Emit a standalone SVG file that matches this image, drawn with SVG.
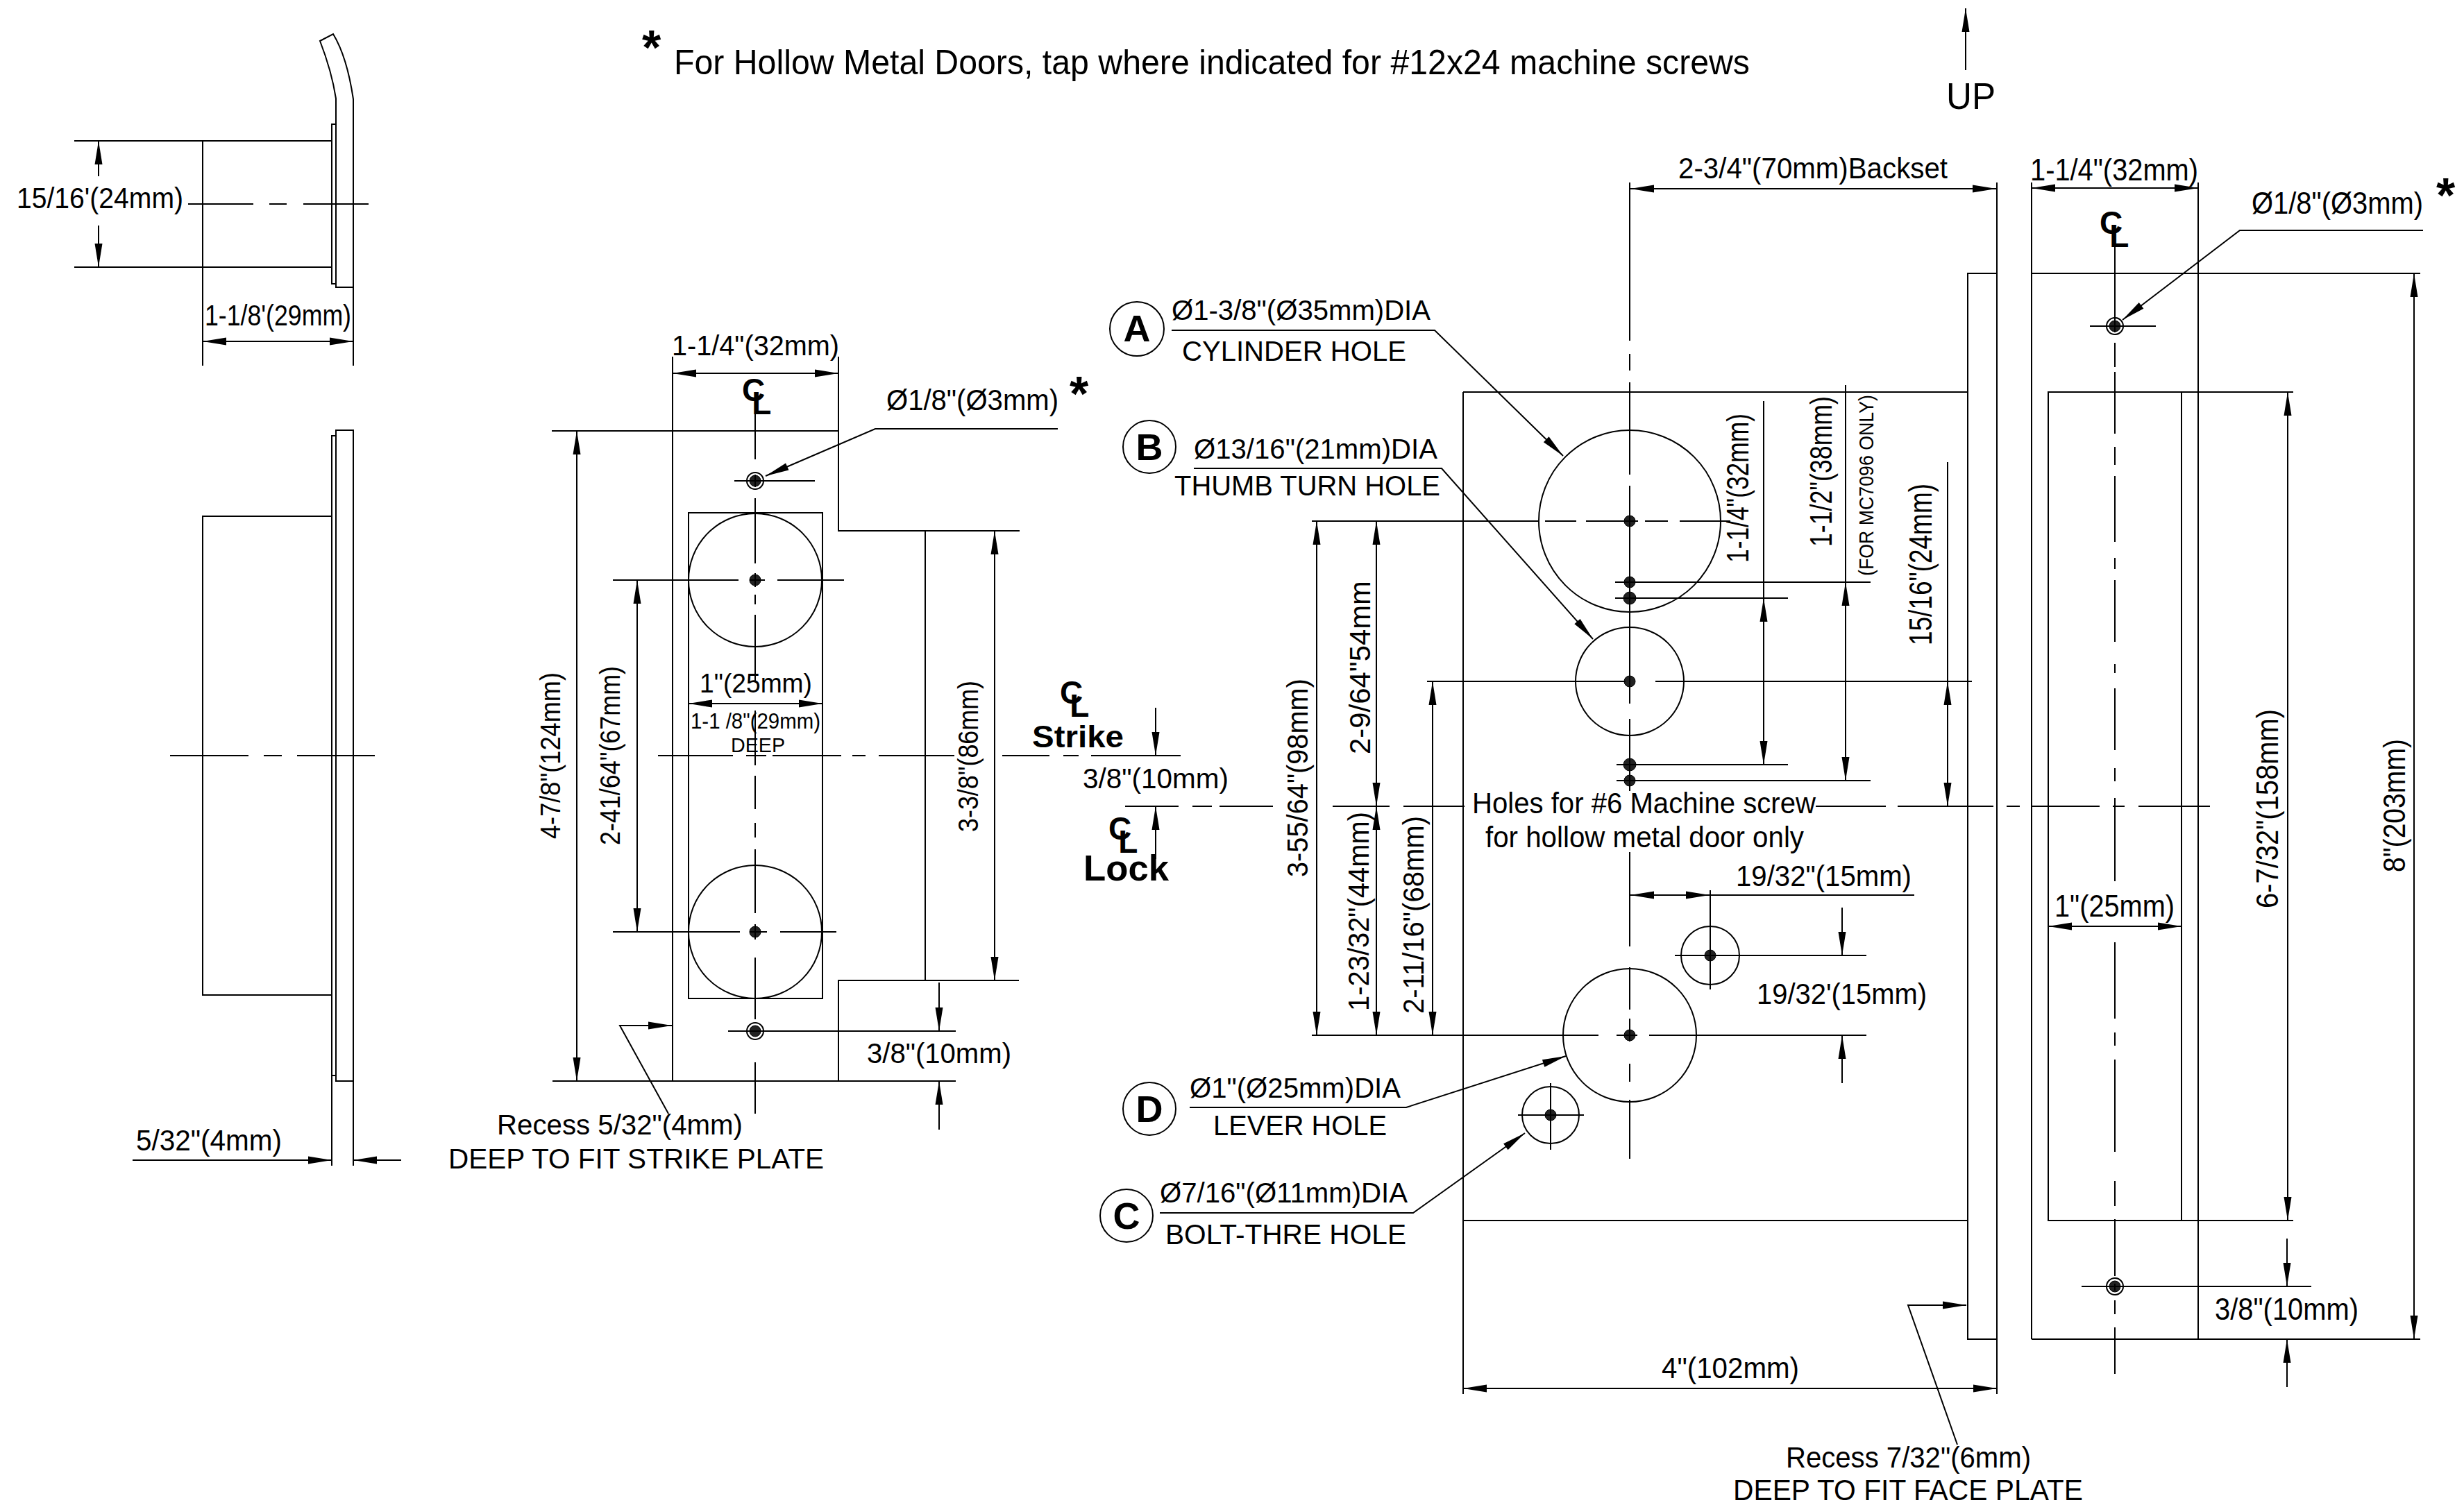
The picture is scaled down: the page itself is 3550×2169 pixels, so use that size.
<svg xmlns="http://www.w3.org/2000/svg" width="3550" height="2169" viewBox="0 0 3550 2169">
<defs>
<marker id="ah" markerUnits="userSpaceOnUse" markerWidth="36" markerHeight="14" refX="35" refY="7" orient="auto-start-reverse"><path d="M35 7L1 1.500V12.500Z" fill="#000"/></marker>
</defs>
<style>
text{font-family:"Liberation Sans",Arial,sans-serif;fill:#000;font-size:42px}
.b{font-weight:bold}
.cl{font-weight:bold;font-size:46px;text-anchor:start}
.cl tspan+tspan{font-size:38px}
.g,.d line,.d path{fill:none;stroke:#000;stroke-width:2}
.d line,.d path{marker-end:url(#ah)}
.d .two{marker-start:url(#ah)}
circle{fill:none;stroke:#000;stroke-width:2}
circle.dot{fill:#222;stroke:#000;stroke-width:1}
rect{fill:#fff;stroke:#000;stroke-width:2}
</style>
<rect x="0" y="0" width="3550" height="2169" style="stroke:none"/>

<g id="title">
<text class="b" x="925" y="93" style="font-size:70px">*</text>
<text x="971" y="107" textLength="1550" lengthAdjust="spacingAndGlyphs" style="font-size:50px">For Hollow Metal Doors, tap where indicated for #12x24 machine screws</text>
<text x="2804" y="157" textLength="71" lengthAdjust="spacingAndGlyphs" style="font-size:54px">UP</text>
</g>

<g id="connectors" class="d">
<!-- top-left view -->
<line x1="142" y1="254" x2="142" y2="203"/><line x1="142" y1="325" x2="142" y2="385"/>
<line class="two" x1="292" y1="492" x2="509" y2="492"/>
<line x1="191" y1="1672" x2="478" y2="1672"/><line x1="578" y1="1672" x2="509" y2="1672"/>
<!-- strike view -->
<line class="two" x1="969" y1="538" x2="1208" y2="538"/>
<line class="two" x1="831" y1="621" x2="831" y2="1558"/>
<line class="two" x1="918" y1="836" x2="918" y2="1343"/>
<line class="two" x1="1433" y1="765" x2="1433" y2="1413"/>
<line class="two" x1="992" y1="1014" x2="1185" y2="1014"/>
<path d="M1524 618H1261L1103 686"/>
<line x1="1353" y1="1416" x2="1353" y2="1486"/><line x1="1353" y1="1628" x2="1353" y2="1558"/>
<path d="M963 1605L893 1478H968"/>
<line x1="1665" y1="1020" x2="1665" y2="1089"/><line x1="1665" y1="1238" x2="1665" y2="1162"/>
<!-- lock view -->
<line class="two" x1="2349" y1="272" x2="2876" y2="272"/>
<line x1="2832" y1="101" x2="2832" y2="12"/>
<path d="M1688 476H2067L2252 657"/>
<path d="M1720 675H2077L2295 921"/>
<path d="M1714 1596H2026L2256 1522"/>
<path d="M1671 1748H2036L2197 1633"/>
<line class="two" x1="1897" y1="751" x2="1897" y2="1492"/>
<line class="two" x1="1983" y1="751" x2="1983" y2="1162"/>
<line class="two" x1="1983" y1="1162" x2="1983" y2="1492"/>
<line class="two" x1="2064" y1="982" x2="2064" y2="1492"/>
<path d="M2541 578V862" style="marker-end:none"/><line class="two" x1="2541" y1="862" x2="2541" y2="1102"/>
<path d="M2659 555V839" style="marker-end:none"/><line class="two" x1="2659" y1="839" x2="2659" y2="1125"/>
<path d="M2806 666V982" style="marker-end:none"/><line class="two" x1="2806" y1="982" x2="2806" y2="1162"/>
<path d="M2758 1290H2464" style="marker-end:none"/><line class="two" x1="2349" y1="1290" x2="2463" y2="1290"/>
<line x1="2654" y1="1308" x2="2654" y2="1377"/><line x1="2654" y1="1561" x2="2654" y2="1492"/>
<path d="M2820 2082L2749 1881H2833"/>
<line class="two" x1="2108" y1="2001" x2="2877" y2="2001"/>
<!-- side view -->
<line class="two" x1="2927" y1="271" x2="3167" y2="271"/>
<path d="M3491 332H3227L3058 461"/>
<line class="two" x1="3296" y1="565" x2="3296" y2="1759"/>
<line class="two" x1="3478" y1="394" x2="3478" y2="1930"/>
<line class="two" x1="2951" y1="1335" x2="3143" y2="1335"/>
<line x1="3295" y1="1785" x2="3295" y2="1854"/><line x1="3295" y1="1999" x2="3295" y2="1930"/>
</g>

<g id="view-top">
<path class="g" d="M461 59L480 49Q500 82 509 143V414H484V142Q478 103 461 59Z"/>
<path class="g" d="M484 179H478V409H484M107 203H478M107 385H478M292 203V527M509 414V527M271 294H365M388 294H413M437 294H531"/>
</g>
<g id="view-side-strike">
<path class="g" d="M484 620H509V1558H484ZM484 628H478V1550H484M478 744H292V1434H478M478 1550V1680M509 1558V1680M245 1089H358M380 1089H406M428 1089H540"/>
</g>

<g id="view-strike">
<path class="g" d="M969 514V1558M1208 514V765H1469M795 621H1208M796 1558H1377M1208 1558V1413H1468M1333 765V1413"/>
<rect x="992" y="739" width="193" height="700" style="fill:none"/>
<circle cx="1088" cy="836" r="96"/><circle cx="1088" cy="1343" r="96"/>
<circle class="dot" cx="1088" cy="836" r="8"/><circle class="dot" cx="1088" cy="1343" r="8"/>
<circle cx="1088" cy="693" r="12"/><circle class="dot" cx="1088" cy="693" r="8"/>
<circle cx="1088" cy="1486" r="12"/><circle class="dot" cx="1088" cy="1486" r="8"/>
<path class="g" d="M1088 595V662M1088 684V702M1088 718V812M1088 826V846M1088 857V871M1088 886V981M1088 1024V1103M1088 1118V1166M1088 1186V1207M1088 1224V1316M1088 1332V1354M1088 1380V1469M1088 1531V1605"/>
<path class="g" d="M1058 693H1174M1049 1486H1377M883 836H1064M1080 836H1102M1120 836H1216M883 1343H1066M1080 1343H1105M1124 1343H1205"/>
<path class="g" d="M948 1089H1056M1075 1089H1104M1113 1089H1212M1228 1089H1247M1266 1089H1375M1444 1089H1512M1532 1089H1554M1572 1089H1701M1621 1162H1698M1718 1162H1746M1757 1162H1834M1920 1162H2002M2022 1162H2110M2616 1162H2717M2734 1162H2872M2891 1162H2910M2927 1162H3025M3044 1162H3061M3081 1162H3184"/>
</g>

<g id="view-lock">
<path class="g" d="M2108 565H2835M2108 565V2009M2108 1759H2835M2835 394H2877V1930H2835ZM2877 263V2009"/>
<circle cx="2348" cy="751" r="131"/><circle cx="2348" cy="982" r="78"/><circle cx="2348" cy="1492" r="96"/>
<circle cx="2464" cy="1377" r="42"/><circle cx="2234" cy="1607" r="41"/>
<circle class="dot" cx="2348" cy="751" r="8"/><circle class="dot" cx="2348" cy="982" r="8"/><circle class="dot" cx="2348" cy="1492" r="8"/>
<circle class="dot" cx="2464" cy="1377" r="8"/><circle class="dot" cx="2234" cy="1607" r="8"/>
<circle class="dot" cx="2348" cy="839" r="8"/><circle class="dot" cx="2348" cy="862" r="9"/><circle class="dot" cx="2348" cy="1102" r="9"/><circle class="dot" cx="2348" cy="1125" r="8"/>
<path class="g" d="M2327 839H2695M2327 862H2576M2329 1102H2576M2329 1125H2695"/>
<path class="g" d="M2056 982H2342M2385 982H2841M1890 751H2217M2226 751H2271M2285 751H2360M2370 751H2403M2420 751H2493M1890 1492H2303M2329 1492H2359M2376 1492H2689M2413 1377H2689M2187 1607H2282"/>
<path class="g" d="M2348 263V491M2348 510V534M2348 551V684M2348 700V1014M2348 1036V1140M2348 1228V1364M2348 1394V1455M2348 1468V1501M2348 1533V1559M2348 1585V1670M2464 1283V1426M2234 1561V1657"/>
</g>

<g id="view-edge">
<path class="g" d="M2927 263V1930M3167 263V1930M2927 394H3487M2927 1930H3487M2951 565V1759H3143V565ZM2951 565H3304M2951 1759H3304"/>
<circle cx="3047" cy="470" r="12"/><circle class="dot" cx="3047" cy="470" r="8"/>
<circle cx="3047" cy="1854" r="12"/><circle class="dot" cx="3047" cy="1854" r="8"/>
<path class="g" d="M3011 470H3106M2999 1854H3330M3047 354V479M3047 494V529M3047 536V625M3047 644V670M3047 686V781M3047 804V820M3047 836V925M3047 957V970M3047 992V1081M3047 1107V1126M3047 1150V1270M3047 1358V1468M3047 1488V1507M3047 1527V1660M3047 1702V1738M3047 1757V1839M3047 1850V1860M3047 1874V1894M3047 1913V1980"/>
</g>

<g id="node-a"><circle cx="1638" cy="474" r="39"/><text class="b" x="1638" y="492" text-anchor="middle" style="font-size:54px">A</text>
<text x="1688" y="461" textLength="373" lengthAdjust="spacingAndGlyphs" style="font-size:41px">Ø1-3/8"(Ø35mm)DIA</text>
<text x="1703" y="520" textLength="323" lengthAdjust="spacingAndGlyphs" style="font-size:41px">CYLINDER HOLE</text></g>
<g id="node-b"><circle cx="1656" cy="644" r="38"/><text class="b" x="1656" y="663" text-anchor="middle" style="font-size:54px">B</text>
<text x="1720" y="661" textLength="351" lengthAdjust="spacingAndGlyphs" style="font-size:41px">Ø13/16"(21mm)DIA</text>
<text x="1692" y="714" textLength="383" lengthAdjust="spacingAndGlyphs" style="font-size:41px">THUMB TURN HOLE</text></g>
<g id="node-d"><circle cx="1656" cy="1598" r="38"/><text class="b" x="1656" y="1617" text-anchor="middle" style="font-size:54px">D</text>
<text x="1714" y="1582" textLength="304" lengthAdjust="spacingAndGlyphs" style="font-size:41px">Ø1"(Ø25mm)DIA</text>
<text x="1748" y="1636" textLength="250" lengthAdjust="spacingAndGlyphs" style="font-size:41px">LEVER HOLE</text></g>
<g id="node-c"><circle cx="1623" cy="1752" r="38"/><text class="b" x="1623" y="1771" text-anchor="middle" style="font-size:54px">C</text>
<text x="1671" y="1733" textLength="357" lengthAdjust="spacingAndGlyphs" style="font-size:41px">Ø7/16"(Ø11mm)DIA</text>
<text x="1679" y="1793" textLength="347" lengthAdjust="spacingAndGlyphs" style="font-size:41px">BOLT-THRE HOLE</text></g>

<g id="labels">
<text x="24" y="300" textLength="240" lengthAdjust="spacingAndGlyphs" style="font-size:43px">15/16'(24mm)</text>
<text x="295" y="469" textLength="211" lengthAdjust="spacingAndGlyphs" style="font-size:43px">1-1/8'(29mm)</text>
<text x="196" y="1658" textLength="210" lengthAdjust="spacingAndGlyphs">5/32"(4mm)</text>
<text x="968" y="512" textLength="241" lengthAdjust="spacingAndGlyphs" style="font-size:40px">1-1/4"(32mm)</text>
<text x="1277" y="591" textLength="248" lengthAdjust="spacingAndGlyphs">Ø1/8"(Ø3mm)</text>
<text x="1541" y="592" style="font-size:70px" class="b">*</text>
<text x="1008" y="998" textLength="162" lengthAdjust="spacingAndGlyphs" style="font-size:39px">1"(25mm)</text>
<text x="995" y="1050" textLength="187" lengthAdjust="spacingAndGlyphs" style="font-size:32px">1-1 /8"(29mm)</text>
<text x="1053" y="1084" textLength="78" lengthAdjust="spacingAndGlyphs" style="font-size:30px">DEEP</text>
<text x="1249" y="1532" textLength="208" lengthAdjust="spacingAndGlyphs" style="font-size:41px">3/8"(10mm)</text>
<text x="716" y="1635" textLength="354" lengthAdjust="spacingAndGlyphs" style="font-size:41px">Recess 5/32"(4mm)</text>
<text x="646" y="1684" textLength="541" lengthAdjust="spacingAndGlyphs" style="font-size:41px">DEEP TO FIT STRIKE PLATE</text>
<text class="b" x="1487" y="1077" textLength="132" lengthAdjust="spacingAndGlyphs" style="font-size:44px">Strike</text>
<text x="1560" y="1136" textLength="210" lengthAdjust="spacingAndGlyphs" style="font-size:41px">3/8"(10mm)</text>
<text class="b" x="1561" y="1269" textLength="123" lengthAdjust="spacingAndGlyphs" style="font-size:52px">Lock</text>
<text class="cl" x="1069" y="578">C<tspan dx="-19" dy="19">L</tspan></text>
<text class="cl" x="1527" y="1014">C<tspan dx="-19" dy="19">L</tspan></text>
<text class="cl" x="1597" y="1210">C<tspan dx="-19" dy="19">L</tspan></text>
<text class="cl" x="3025" y="337">C<tspan dx="-19" dy="19">L</tspan></text>
<text x="2418" y="257" textLength="388" lengthAdjust="spacingAndGlyphs" style="font-size:43px">2-3/4"(70mm)Backset</text>
<text x="2121" y="1172" textLength="495" lengthAdjust="spacingAndGlyphs" style="font-size:43px">Holes for #6 Machine screw</text>
<text x="2140" y="1221" textLength="459" lengthAdjust="spacingAndGlyphs" style="font-size:43px">for hollow metal door only</text>
<text x="2501" y="1277" textLength="253" lengthAdjust="spacingAndGlyphs" style="font-size:43px">19/32"(15mm)</text>
<text x="2531" y="1447" textLength="245" lengthAdjust="spacingAndGlyphs" style="font-size:43px">19/32'(15mm)</text>
<text x="2394" y="1986" textLength="198" lengthAdjust="spacingAndGlyphs">4"(102mm)</text>
<text x="2573" y="2115" textLength="353" lengthAdjust="spacingAndGlyphs">Recess 7/32"(6mm)</text>
<text x="2497" y="2162" textLength="504" lengthAdjust="spacingAndGlyphs">DEEP TO FIT FACE PLATE</text>
<text x="2925" y="260" textLength="242" lengthAdjust="spacingAndGlyphs" style="font-size:44px">1-1/4"(32mm)</text>
<text x="3244" y="308" textLength="247" lengthAdjust="spacingAndGlyphs" style="font-size:44px">Ø1/8"(Ø3mm)</text>
<text x="3510" y="306" style="font-size:70px" class="b">*</text>
<text x="2960" y="1321" textLength="173" lengthAdjust="spacingAndGlyphs" style="font-size:44px">1"(25mm)</text>
<text x="3191" y="1902" textLength="207" lengthAdjust="spacingAndGlyphs" style="font-size:44px">3/8"(10mm)</text>
<text transform="translate(807,1209) rotate(-90)" textLength="240" lengthAdjust="spacingAndGlyphs" style="font-size:41px">4-7/8"(124mm)</text>
<text transform="translate(893,1218) rotate(-90)" textLength="258" lengthAdjust="spacingAndGlyphs" style="font-size:40px">2-41/64"(67mm)</text>
<text transform="translate(1409,1199) rotate(-90)" textLength="218" lengthAdjust="spacingAndGlyphs" style="font-size:40px">3-3/8"(86mm)</text>
<text transform="translate(1884,1264) rotate(-90)" textLength="286" lengthAdjust="spacingAndGlyphs" style="font-size:43px">3-55/64"(98mm)</text>
<text transform="translate(1974,1087) rotate(-90)" textLength="250" lengthAdjust="spacingAndGlyphs" style="font-size:43px">2-9/64"54mm</text>
<text transform="translate(1972,1457) rotate(-90)" textLength="287" lengthAdjust="spacingAndGlyphs" style="font-size:43px">1-23/32"(44mm)</text>
<text transform="translate(2051,1461) rotate(-90)" textLength="285" lengthAdjust="spacingAndGlyphs" style="font-size:43px">2-11/16"(68mm)</text>
<text transform="translate(2519,811) rotate(-90)" textLength="215" lengthAdjust="spacingAndGlyphs" style="font-size:44px">1-1/4"(32mm)</text>
<text transform="translate(2639,788) rotate(-90)" textLength="217" lengthAdjust="spacingAndGlyphs" style="font-size:44px">1-1/2"(38mm)</text>
<text transform="translate(2699,830) rotate(-90)" textLength="261" lengthAdjust="spacingAndGlyphs" style="font-size:29px">(FOR MC7096 ONLY)</text>
<text transform="translate(2783,930) rotate(-90)" textLength="233" lengthAdjust="spacingAndGlyphs" style="font-size:46px">15/16"(24mm)</text>
<text transform="translate(3282,1309) rotate(-90)" textLength="287" lengthAdjust="spacingAndGlyphs" style="font-size:44px">6-7/32"(158mm)</text>
<text transform="translate(3465,1257) rotate(-90)" textLength="192" lengthAdjust="spacingAndGlyphs" style="font-size:44px">8"(203mm)</text>
</g>
</svg>
